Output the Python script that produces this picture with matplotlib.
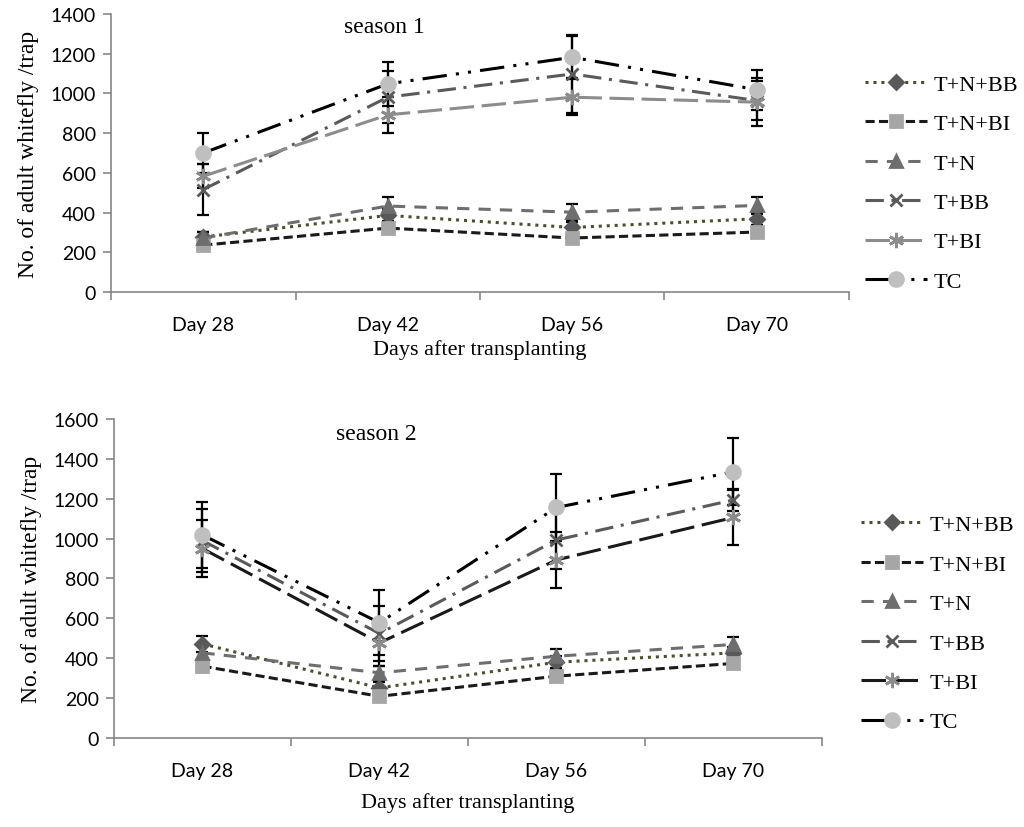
import numpy as np
import matplotlib
matplotlib.use("Agg")
import matplotlib.pyplot as plt

# ### Data
days = ["Day 28", "Day 42", "Day 56", "Day 70"]
treatments = ["T+N+BB", "T+N+BI", "T+N", "T+BB", "T+BI", "TC"]

s1_tnbb = [277, 386, 325, 369]
s1_tnbi = [236, 322, 272, 302]
s1_tn = [272, 433, 402, 436]
s1_tbb = [516, 981, 1098, 964]
s1_tbi = [583, 892, 981, 956]
s1_tc = [700, 1048, 1182, 1019]

s1_err_tnbb = [25, 30, 30, 30]
s1_err_tnbi = [20, 20, 20, 20]
s1_err_tn = [30, 45, 40, 42]
s1_err_tbb = [130, 130, 195, 100]
s1_err_tbi = [60, 90, 90, 120]
s1_err_tc = [100, 110, 105, 100]

s2_tnbb = [472, 251, 380, 427]
s2_tnbi = [360, 209, 310, 374]
s2_tn = [427, 327, 410, 469]
s2_tbb = [990, 524, 993, 1194]
s2_tbi = [950, 477, 893, 1106]
s2_tc = [1018, 578, 1156, 1335]

s2_err_tnbb = [40, 30, 30, 30]
s2_err_tnbi = [30, 25, 30, 25]
s2_err_tn = [40, 35, 35, 37]
s2_err_tbb = [160, 140, 147, 55]
s2_err_tbi = [144, 114, 139, 140]
s2_err_tc = [166, 164, 166, 168]

serif = ["Liberation Serif", "DejaVu Serif"]
sans = ["Lato", "DejaVu Sans"]
plt.rcParams["font.family"] = sans

# ### Style per treatment (line colour, dash pattern, marker, marker colour, size)
styles = {
    "T+N+BB": dict(color="#4d4d33", dashes=(1, 1.6), marker="D", mfc="#595959", ms=7),
    "T+N+BI": dict(color="#1a1a1a", dashes=(3, 1.4), marker="s", mfc="#a6a6a6", ms=9),
    "T+N": dict(color="#6e6e6e", dashes=(4, 3), marker="^", mfc="#6e6e6e", ms=9),
    "T+BB": dict(color="#5a5a5a", dashes=(6, 2.5, 1, 2.5), marker="x", mfc="#5a5a5a", ms=9),
    "T+BI": dict(color="#8c8c8c", dashes=(8, 2.5), marker=(6, 2, 0), mfc="#8c8c8c", ms=11),
    "TC": dict(color="#000000", dashes=(8, 3, 1, 3, 1, 3), marker="o", mfc="#bfbfbf", ms=10),
}


def draw(ax, values, errors, title, ymax, tbi_color, xlabelpad):
    x = np.arange(len(days))
    handles = []
    for name, vals, err in zip(treatments, values, errors):
        st = dict(styles[name])
        if name == "T+BI":
            st["color"] = tbi_color
        ax.errorbar(x, vals, yerr=err, fmt="none", ecolor="black", elinewidth=1.6,
                    capsize=4, capthick=1.6, zorder=2)
        (h,) = ax.plot(x, vals, color=st["color"], dashes=st["dashes"], lw=2.2,
                       marker=st["marker"], mfc=st["mfc"], mec=st["mfc"],
                       mew=2, ms=st["ms"], label=name, zorder=3)
        handles.append(h)
    ax.set_xlim(-0.5, 3.5)
    ax.set_ylim(0, ymax)
    ax.set_yticks(np.arange(0, ymax + 1, 200))
    ax.set_xticks(np.arange(-0.5, 3.6, 1))
    ax.set_xticklabels([])
    ax.set_xticks(x, minor=True)
    ax.set_xticklabels(days, minor=True)
    ax.tick_params(axis="x", which="major", direction="out", length=6, color="#868686", width=1.2)
    ax.tick_params(axis="x", which="minor", length=0, pad=17, labelsize=14)
    ax.tick_params(axis="y", direction="out", length=6, color="#868686", width=1.2,
                   labelsize=14, pad=5)
    for side in ["top", "right"]:
        ax.spines[side].set_visible(False)
    for side in ["left", "bottom"]:
        ax.spines[side].set_color("#868686")
        ax.spines[side].set_linewidth(1.2)
    ax.grid(False)
    ax.set_xlabel("Days after transplanting", family=serif, fontsize=16, labelpad=xlabelpad)
    ax.set_ylabel("No. of adult whitefly /trap", family=serif, fontsize=17, labelpad=8)
    ax.text(0.37, 0.955, title, transform=ax.transAxes, family=serif, fontsize=17,
            ha="center", va="center")
    return handles


fig = plt.figure(figsize=(10.24, 8.28), dpi=100)
ax1 = fig.add_axes([0.1084, 0.6461, 0.7207, 0.3358])
ax2 = fig.add_axes([0.1113, 0.1075, 0.6914, 0.3853])

h1 = draw(ax1, [s1_tnbb, s1_tnbi, s1_tn, s1_tbb, s1_tbi, s1_tc],
          [s1_err_tnbb, s1_err_tnbi, s1_err_tn, s1_err_tbb, s1_err_tbi, s1_err_tc],
          "season 1", 1400, "#8c8c8c", 5)
h2 = draw(ax2, [s2_tnbb, s2_tnbi, s2_tn, s2_tbb, s2_tbi, s2_tc],
          [s2_err_tnbb, s2_err_tnbi, s2_err_tn, s2_err_tbb, s2_err_tbi, s2_err_tc],
          "season 2", 1600, "#1a1a1a", 10)

leg_kw = dict(frameon=False, prop={"family": serif, "size": 16}, handlelength=2.8,
              handletextpad=0.3, labelspacing=0.85, borderaxespad=0)
fig.legend(handles=h1, loc="upper left", bbox_to_anchor=(0.836, 0.92), **leg_kw)
fig.legend(handles=h2, loc="upper left", bbox_to_anchor=(0.832, 0.388), **leg_kw)

plt.savefig("out.png", dpi=100)
